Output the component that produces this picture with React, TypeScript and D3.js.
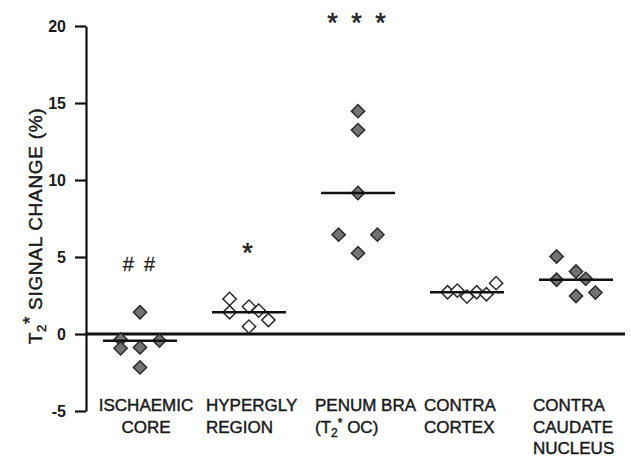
import * as d3 from "d3";
import { useEffect, useRef } from "react";

const categories = ["ISCHAEMIC CORE", "HYPERGLY REGION", "PENUMBRA", "CONTRA CORTEX", "CONTRA CAUDATE NUCLEUS"];

// label lines per category (second line of penumbra has a subscript, handled below)
const labelLines = [
  ["ISCHAEMIC", "CORE"],
  ["HYPERGLY", "REGION"],
  ["PENUM BRA", "(T2* OC)"],
  ["CONTRA", "CORTEX"],
  ["CONTRA", "CAUDATE", "NUCLEUS"],
];

// values, one array per group
const coreValues = [-0.35, -0.93, -0.87, 1.41, -2.17, -0.43];
const hyperValues = [2.28, 1.41, 1.78, 0.48, 1.52, 0.91];
const penumbraValues = [14.47, 13.24, 9.16, 6.45, 6.45, 5.25];
const cortexValues = [2.71, 2.82, 2.43, 2.71, 2.58, 3.3];
const caudateValues = [5.03, 3.52, 4.06, 3.58, 2.47, 2.69];

// horizontal jitter slots of the dot plot (in slot units)
const coreSlots = [-2, -2, 0, 0, 0, 2];
const hyperSlots = [-2, -2, 0, 0, 1, 2];
const penumbraSlots = [0, 0, 0, -2, 2, 0];
const cortexSlots = [-2, -1, 0, 1, 2, 3];
const caudateSlots = [-2, -2, 0, 1, 0, 2];

const groupValues = [coreValues, hyperValues, penumbraValues, cortexValues, caudateValues];
const groupSlots = [coreSlots, hyperSlots, penumbraSlots, cortexSlots, caudateSlots];
const filled = [true, false, true, false, true];
const medians = [-0.44, 1.41, 9.16, 2.71, 3.52];

const marks = ["# #", "*", "* * *", "", ""];
const markValues = [4.52, 5.67, 20.6, 0, 0];

const yTicks = [-5, 0, 5, 10, 15, 20];

const W = 631;
const H = 458;

const App = () => {
  const axisRef = useRef<SVGGElement | null>(null);

  const x = d3.scalePoint<string>().domain(categories).range([140, 576]);
  const y = d3.scaleLinear().domain([-5, 20]).range([411, 26]);
  const slot = 9.7;
  const diamond = d3.symbol().type(d3.symbolSquare).size(88)() as string;

  useEffect(() => {
    if (!axisRef.current) return;
    const g = d3.select(axisRef.current);
    g.call(
      d3.axisLeft(y).tickValues(yTicks).tickSize(11).tickSizeOuter(0).tickPadding(9).tickFormat((d) => String(d))
    );
    g.select(".domain").attr("stroke", "#111").attr("stroke-width", 2.2);
    g.selectAll(".tick line").attr("stroke", "#111").attr("stroke-width", 2.2);
    g.selectAll(".tick text")
      .attr("fill", "#1a1a1a")
      .attr("font-size", 16)
      .attr("font-weight", "bold")
      .attr("font-family", "Liberation Sans, Arial, sans-serif");
  }, []);

  const labelStyle = { stroke: "#1a1a1a", strokeWidth: 0.45 };

  return (
    <svg
      width={W}
      height={H}
      viewBox={`0 0 ${W} ${H}`}
      style={{ position: "absolute", left: 0, top: 0, background: "#fff" }}
      fontFamily="Liberation Sans, Arial, sans-serif"
    >
      {/* zero line */}
      <line x1={86} x2={625} y1={y(0)} y2={y(0)} stroke="#111" strokeWidth={3} />
      <g ref={axisRef} transform="translate(86,0)" />

      {/* axis title */}
      <text
        transform="translate(42,226) rotate(-90)"
        textAnchor="middle"
        fontSize={19}
        fill="#1a1a1a"
        letterSpacing={0.7}
        {...labelStyle}
      >
        <tspan>T</tspan>
        <tspan fontSize={13} dy={4}>2</tspan>
        <tspan dy={-10}>*</tspan>
        <tspan dy={6}> SIGNAL CHANGE (%)</tspan>
      </text>

      {categories.map((c, i) => {
        const cx = x(c) as number;
        const hash = marks[i].startsWith("#");
        return (
          <g key={c}>
            {groupValues[i].map((v, j) => (
              <path
                key={j}
                d={diamond}
                transform={`translate(${cx + groupSlots[i][j] * slot},${y(v)}) rotate(45)`}
                fill={filled[i] ? "#737373" : "#fff"}
                stroke="#2a2a2a"
                strokeWidth={1.5}
              />
            ))}
            <line x1={cx - 37} x2={cx + 37} y1={y(medians[i])} y2={y(medians[i])} stroke="#111" strokeWidth={2.6} />
            {marks[i] && (
              <text
                x={cx}
                y={y(markValues[i]) + (hash ? 7 : 15)}
                textAnchor="middle"
                fontSize={hash ? 20 : 27}
                letterSpacing={hash ? 2.2 : 3}
                fill="#222"
                stroke="#222"
                strokeWidth={hash ? 0.3 : 0.5}
              >
                {marks[i]}
              </text>
            )}
            {labelLines[i].map((line, k) => {
              const first = i === 0;
              const tx = first ? cx + 6 : cx - 43;
              const ty = 411 + k * 21.5;
              if (line.includes("T2*")) {
                return (
                  <text key={k} x={tx} y={ty} fontSize={17} fill="#1a1a1a" textAnchor="start" {...labelStyle}>
                    <tspan>(T</tspan>
                    <tspan fontSize={12} dy={4}>2</tspan>
                    <tspan fontSize={12} dy={-10}>*</tspan>
                    <tspan dy={6}> OC)</tspan>
                  </text>
                );
              }
              return (
                <text
                  key={k}
                  x={tx}
                  y={ty}
                  fontSize={17}
                  fill="#1a1a1a"
                  textAnchor={first ? "middle" : "start"}
                  {...labelStyle}
                >
                  {line}
                </text>
              );
            })}
          </g>
        );
      })}
    </svg>
  );
};

export default App;
